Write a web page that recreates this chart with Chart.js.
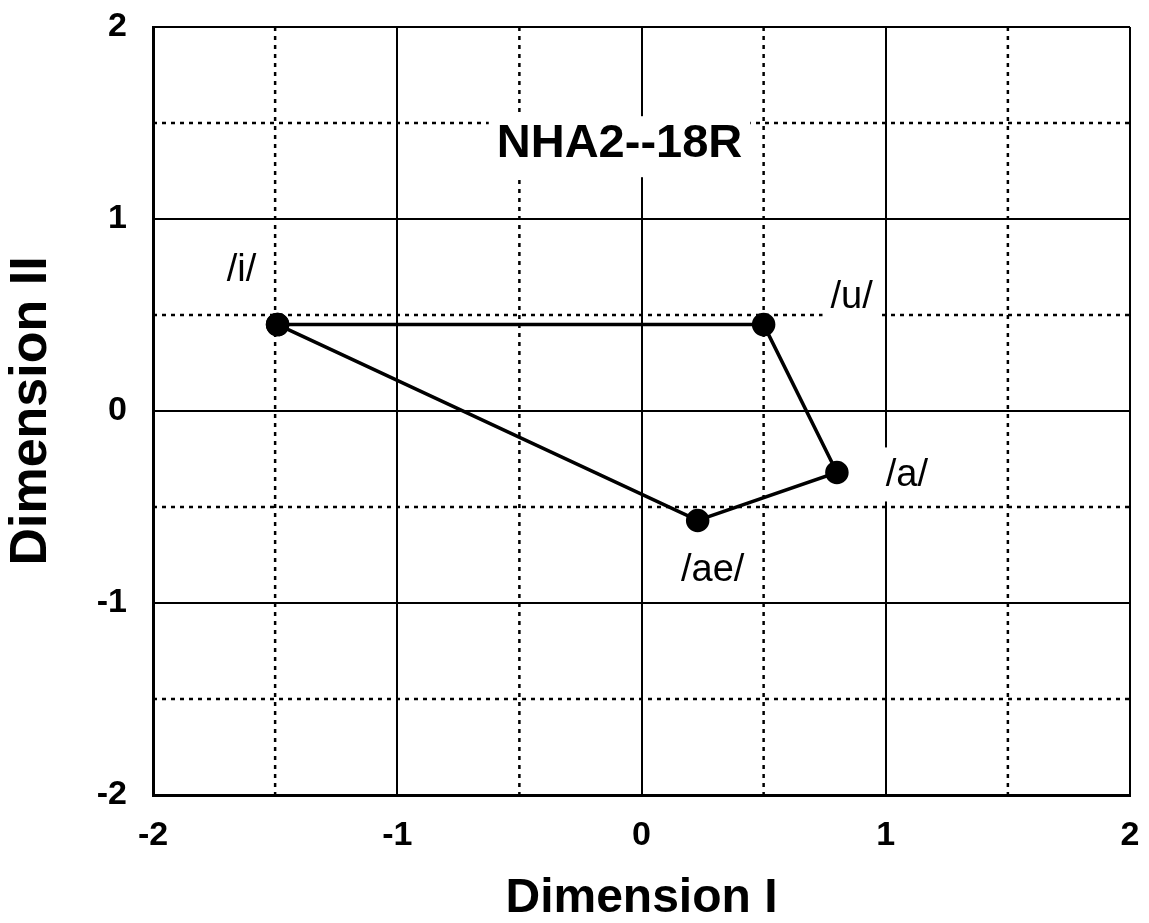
<!DOCTYPE html>
<html>
<head>
<meta charset="utf-8">
<script src="https://cdn.jsdelivr.net/npm/chart.js@4.4.0/dist/chart.umd.min.js"></script>
<style>
    body { margin: 0; background: #ffffff; }
    #wrap { width: 1149px; height: 923px; position: relative; }
</style>
</head>
<body>
<div id="wrap"><canvas id="myChart"></canvas></div>
<script>

// vowel space data
const vowels = ['/i/', '/u/', '/a/', '/ae/'];
const dimI = [-1.49, 0.5, 0.8, 0.23];
const dimII = [0.45, 0.45, -0.32, -0.57];

// dotted helper grid lines and the title of the panel
const halfLines = [-1.5, -0.5, 0.5, 1.5];
const panelTitle = 'NHA2--18R';
const panelTitleAt = [-0.09, 1.40];

// where each label sits relative to its point (pixels)
const labelOffsets = [[-36, -54], [88, -27], [70, 3], [15, 50]];

const fontName = '"Liberation Sans", Arial, sans-serif';

// closing the polygon by going back to the first vowel
let points = [];
for (let i = 0; i < vowels.length; i++) {
    points.push({ x: dimI[i], y: dimII[i] });
}
points.push({ x: dimI[0], y: dimII[0] });

// draws the dotted lines at the half steps, then labels and title
const dottedGrid = {
    id: 'dottedGrid',
    beforeDatasetsDraw: (chart) => {
        const ctx = chart.ctx;
        const area = chart.chartArea;
        const xs = chart.scales.x;
        const ys = chart.scales.y;
        ctx.save();
        ctx.strokeStyle = '#000';
        ctx.lineWidth = 2.5;
        ctx.setLineDash([4, 5]);
        for (let i = 0; i < halfLines.length; i++) {
            let px = xs.getPixelForValue(halfLines[i]);
            let py = ys.getPixelForValue(halfLines[i]);
            ctx.beginPath();
            ctx.moveTo(px, area.top);
            ctx.lineTo(px, area.bottom);
            ctx.stroke();
            ctx.beginPath();
            ctx.moveTo(area.left, py);
            ctx.lineTo(area.right, py);
            ctx.stroke();
        }
        ctx.restore();
    },
    afterDatasetsDraw: (chart) => {
        const ctx = chart.ctx;
        const xs = chart.scales.x;
        const ys = chart.scales.y;
        ctx.save();
        ctx.textAlign = 'center';
        ctx.textBaseline = 'middle';

        // vowel labels with a white box behind them
        ctx.font = '38px ' + fontName;
        for (let i = 0; i < vowels.length; i++) {
            let px = xs.getPixelForValue(dimI[i]) + labelOffsets[i][0];
            let py = ys.getPixelForValue(dimII[i]) + labelOffsets[i][1];
            let w = ctx.measureText(vowels[i]).width;
            ctx.fillStyle = '#fff';
            ctx.fillRect(px - w / 2 - 8, py - 28, w + 14, 54);
            ctx.fillStyle = '#000';
            ctx.fillText(vowels[i], px, py);
        }

        // panel title
        ctx.font = 'bold 47px ' + fontName;
        let tx = xs.getPixelForValue(panelTitleAt[0]);
        let ty = ys.getPixelForValue(panelTitleAt[1]);
        let tw = ctx.measureText(panelTitle).width;
        ctx.fillStyle = '#fff';
        ctx.fillRect(tx - tw / 2 - 8, ty - 26, tw + 16, 61);
        ctx.fillStyle = '#000';
        ctx.fillText(panelTitle, tx, ty + 2);
        ctx.restore();
    }
};

const ctx = document.getElementById('myChart');
const myChart = new Chart(ctx, {
    type: 'scatter',
    data: {
        datasets: [{
            label: panelTitle,
            data: points,
            showLine: true,
            borderColor: '#000',
            borderWidth: 3.5,
            backgroundColor: '#000',
            pointRadius: 10,
            pointHoverRadius: 10,
            tension: 0
        }]
    },
    options: {
        responsive: true,
        maintainAspectRatio: false,
        animation: false,
        layout: { padding: { top: 27, right: 19, left: 0, bottom: 0 } },
        plugins: {
            legend: { display: false },
            tooltip: { enabled: false }
        },
        scales: {
            x: {
                type: 'linear',
                min: -2,
                max: 2,
                ticks: {
                    stepSize: 1,
                    color: '#000',
                    padding: 20,
                    font: { family: fontName, size: 34, weight: 'bold' }
                },
                grid: { color: '#000', lineWidth: 2, drawTicks: false },
                border: { color: '#000', width: 3 },
                title: {
                    display: true,
                    text: 'Dimension I',
                    color: '#000',
                    padding: { top: 0, bottom: 0 },
                    font: { family: fontName, size: 48, weight: 'bold', lineHeight: 1 }
                },
                afterFit: (scale) => {
                    scale.height = 128;
                    scale.paddingLeft = 0;
                    scale.paddingRight = 0;
                }
            },
            y: {
                type: 'linear',
                min: -2,
                max: 2,
                ticks: {
                    stepSize: 1,
                    color: '#000',
                    padding: 26,
                    font: { family: fontName, size: 34, weight: 'bold' }
                },
                grid: { color: '#000', lineWidth: 2, drawTicks: false },
                border: { color: '#000', width: 3 },
                title: {
                    display: true,
                    text: 'Dimension II',
                    color: '#000',
                    padding: { top: 6, bottom: 0 },
                    font: { family: fontName, size: 52, weight: 'bold', lineHeight: 1 }
                },
                afterFit: (scale) => {
                    scale.width = 153;
                    scale.paddingTop = 0;
                    scale.paddingBottom = 0;
                }
            }
        }
    },
    plugins: [dottedGrid]
});

</script>
</body>
</html>
